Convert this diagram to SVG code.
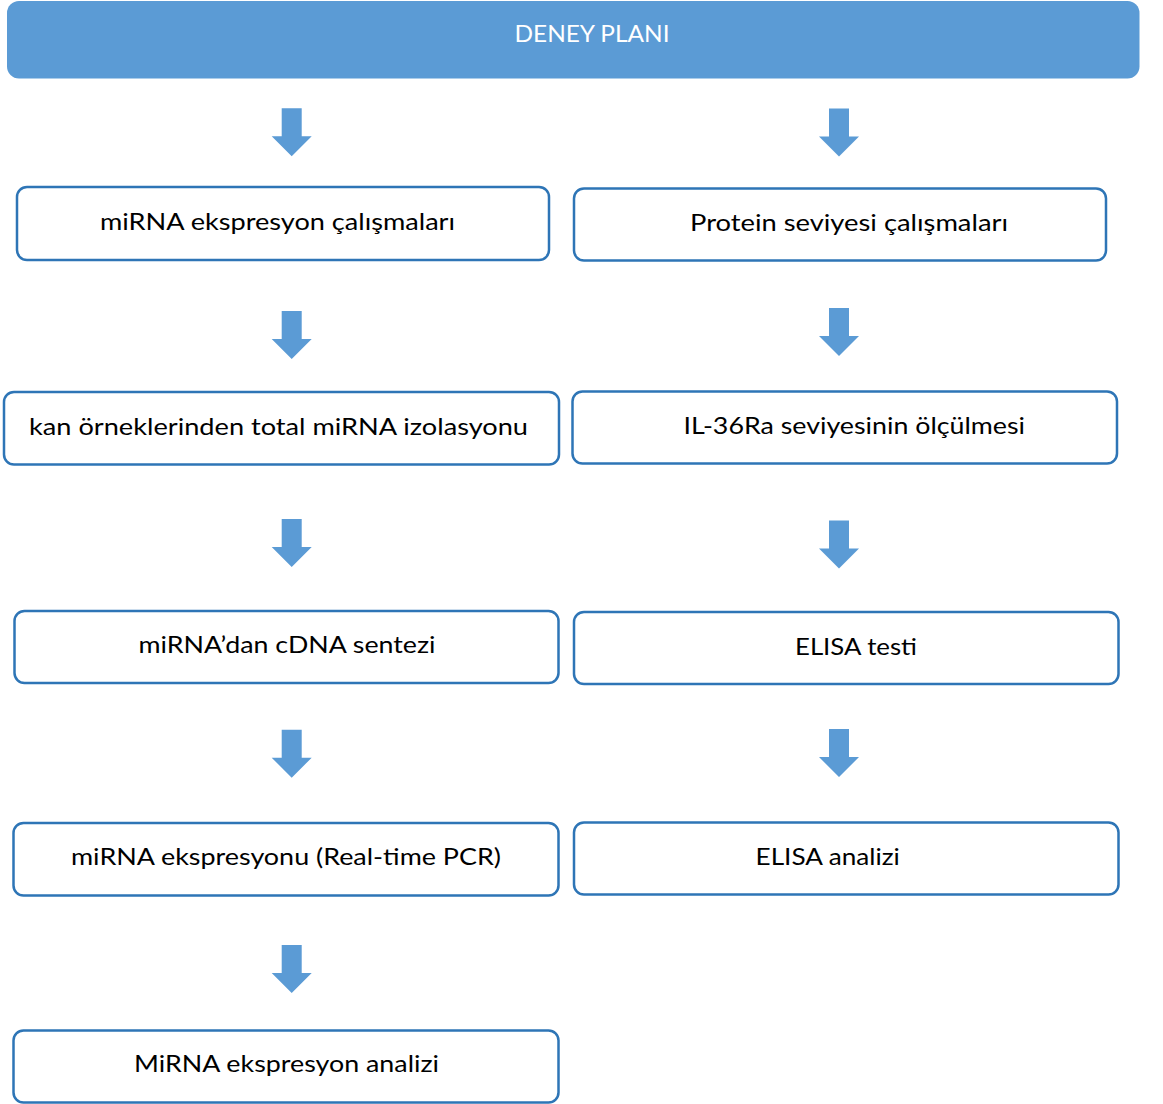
<svg xmlns="http://www.w3.org/2000/svg" width="1163" height="1104" viewBox="0 0 1163 1104">
<defs>
<style>
.box{fill:#fff;stroke:#2E75B6;stroke-width:2.5}
.lbl{font-family:Lato,"Open Sans","Liberation Sans",sans-serif;font-size:24px;fill:#000;text-anchor:middle}
.hdr{font-family:Lato,"Open Sans","Liberation Sans",sans-serif;font-size:24px;fill:#fff;text-anchor:middle}
.arr{fill:#5B9BD5}
</style>
<path id="ar" d="M-10,0 H10 V28 H20 L0,48 L-20,28 H-10 Z"/>
</defs>
<rect width="1163" height="1104" fill="#fff"/>
<g id="header">
<rect x="7" y="1" width="1132.5" height="77.5" rx="12" fill="#5B9BD5"/>
<text class="hdr" x="592" y="42" textLength="155" lengthAdjust="spacingAndGlyphs">DENEY PLANI</text>
</g>
<g id="connectors">
<use href="#ar" class="arr" x="291.7" y="108.3"/>
<use href="#ar" class="arr" x="291.7" y="311"/>
<use href="#ar" class="arr" x="291.7" y="519"/>
<use href="#ar" class="arr" x="291.7" y="729.7"/>
<use href="#ar" class="arr" x="291.7" y="945"/>
<use href="#ar" class="arr" x="839" y="108.5"/>
<use href="#ar" class="arr" x="839" y="308"/>
<use href="#ar" class="arr" x="839" y="520.5"/>
<use href="#ar" class="arr" x="839" y="729"/>
</g>
<g id="n1">
<rect class="box" x="17" y="187" width="532" height="73" rx="10"/>
<text class="lbl" x="277.5" y="230" textLength="355" lengthAdjust="spacingAndGlyphs">miRNA ekspresyon çalışmaları</text>
</g>
<g id="n2">
<rect class="box" x="4" y="392" width="555" height="72.5" rx="10"/>
<text class="lbl" x="278.5" y="435" textLength="499" lengthAdjust="spacingAndGlyphs">kan örneklerinden total miRNA izolasyonu</text>
</g>
<g id="n3">
<rect class="box" x="14.5" y="611" width="544" height="72" rx="10"/>
<text class="lbl" x="287" y="653" textLength="297" lengthAdjust="spacingAndGlyphs">miRNA’dan cDNA sentezi</text>
</g>
<g id="n4">
<rect class="box" x="13.5" y="823" width="545" height="72.5" rx="10"/>
<text class="lbl" x="286" y="865" textLength="430" lengthAdjust="spacingAndGlyphs">miRNA ekspresyonu (Real-time PCR)</text>
</g>
<g id="n5">
<rect class="box" x="13.5" y="1030.5" width="545" height="72" rx="10"/>
<text class="lbl" x="286.5" y="1072" textLength="305" lengthAdjust="spacingAndGlyphs">MiRNA ekspresyon analizi</text>
</g>
<g id="r1">
<rect class="box" x="574" y="188.5" width="532" height="72" rx="10"/>
<text class="lbl" x="849" y="231" textLength="318" lengthAdjust="spacingAndGlyphs">Protein seviyesi çalışmaları</text>
</g>
<g id="r2">
<rect class="box" x="572.5" y="391.5" width="544.5" height="72" rx="10"/>
<text class="lbl" x="854.3" y="433.5" textLength="341.5" lengthAdjust="spacingAndGlyphs">IL-36Ra seviyesinin ölçülmesi</text>
</g>
<g id="r3">
<rect class="box" x="574" y="612" width="544.5" height="72" rx="10"/>
<text class="lbl" x="856" y="655" textLength="122" lengthAdjust="spacingAndGlyphs">ELISA testi</text>
</g>
<g id="r4">
<rect class="box" x="574" y="822.5" width="544.5" height="72" rx="10"/>
<text class="lbl" x="827.7" y="865" textLength="144.3" lengthAdjust="spacingAndGlyphs">ELISA analizi</text>
</g>
</svg>
